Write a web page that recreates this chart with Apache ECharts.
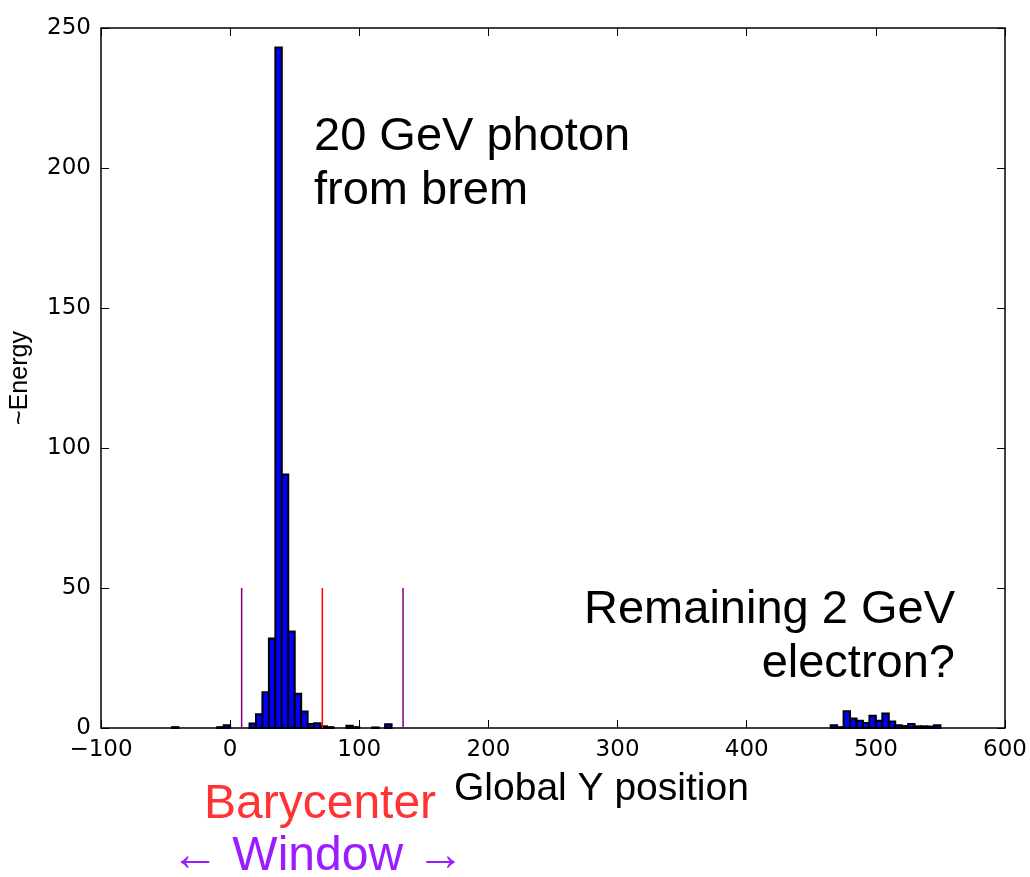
<!DOCTYPE html>
<html><head><meta charset="utf-8">
<script src="https://cdn.jsdelivr.net/npm/echarts@6/dist/echarts.min.js"></script>
<style>html,body{margin:0;padding:0;background:#fff}#c{width:1030px;height:877px}</style>
</head><body><div id="c"></div>
<script>
// Histogram bins (left edges, width 5) and heights
const binWidth = 5;
const binStarts = [-45, -10, -5, 15, 20, 25, 30, 35, 40, 45, 50, 55, 60, 65, 70, 75, 90, 95, 110, 120,
  465, 470, 475, 480, 485, 490, 495, 500, 505, 510, 515, 520, 525, 530, 535, 540, 545];
const binHeights = [0.3, 0.3, 1.0, 1.6, 4.9, 12.8, 32, 243, 90.5, 34.5, 12.2, 5.9, 1.4, 1.7, 0.6, 0.3, 0.8, 0.3, 0.2, 1.3,
  1.0, 0.3, 6.0, 3.4, 2.6, 1.8, 4.4, 2.6, 5.2, 2.3, 1.0, 0.7, 1.4, 0.6, 0.6, 0.5, 1.0];
const barycenter = 71.4;
const windowEdges = [8.9, 133.9];
const markerHeight = 50;
const xTicks = [-100, 0, 100, 200, 300, 400, 500, 600];
const yTicks = [0, 50, 100, 150, 200, 250];

const histData = binStarts.map((s, i) => [s, s + binWidth, binHeights[i]]);
const chart = echarts.init(document.getElementById('c'), null, {renderer: 'canvas'});
const tickFont = {fontFamily: 'DejaVu Sans', fontSize: 23, color: '#000'};
const minusFmt = v => String(v).replace('-', '\u2212');
const grid = {left: 100, top: 28, width: 905, height: 700, show: true, borderColor: '#000', borderWidth: 1.5, backgroundColor: 'transparent'};
const axisCommon = {
  axisLine: {show: false, onZero: false}, splitLine: {show: false},
  axisTick: {show: true, inside: true, length: 8, lineStyle: {color: '#000', width: 1}}
};
chart.setOption({
  animation: false,
  grid: grid,
  xAxis: [
    Object.assign({type: 'value', min: xTicks[0], max: xTicks[xTicks.length-1], interval: 100, position: 'bottom',
      axisLabel: Object.assign({margin: 11, formatter: minusFmt}, tickFont)}, axisCommon),
    Object.assign({type: 'value', min: xTicks[0], max: xTicks[xTicks.length-1], interval: 100, position: 'top',
      axisLabel: {show: false}}, axisCommon)
  ],
  yAxis: [
    Object.assign({type: 'value', min: yTicks[0], max: yTicks[yTicks.length-1], interval: 50, position: 'left',
      name: '~Energy', nameLocation: 'middle', nameGap: 68, nameRotate: 90,
      nameTextStyle: {fontFamily: 'Liberation Sans', fontSize: 25, color: '#000'},
      axisLabel: Object.assign({margin: 10}, tickFont)}, axisCommon),
    Object.assign({type: 'value', min: yTicks[0], max: yTicks[yTicks.length-1], interval: 50, position: 'right',
      axisLabel: {show: false}}, axisCommon)
  ],
  series: [
    {
      type: 'custom', xAxisIndex: 0, yAxisIndex: 0,
      data: histData,
      encode: {x: [0, 1], y: 2},
      renderItem: function (params, api) {
        const p0 = api.coord([api.value(0), 0]);
        const p1 = api.coord([api.value(1), api.value(2)]);
        return {
          type: 'rect',
          shape: {x: p0[0], y: p1[1], width: p1[0] - p0[0], height: p0[1] - p1[1]},
          style: {fill: '#0000ff', stroke: '#000', lineWidth: 2}
        };
      }
    },
    {
      type: 'line', symbol: 'none', lineStyle: {color: '#ff0000', width: 1.5},
      data: [[barycenter, 0], [barycenter, markerHeight]]
    },
    {
      type: 'line', symbol: 'none', lineStyle: {color: '#800080', width: 1.5},
      data: [[windowEdges[0], 0], [windowEdges[0], markerHeight]]
    },
    {
      type: 'line', symbol: 'none', lineStyle: {color: '#800080', width: 1.5},
      data: [[windowEdges[1], 0], [windowEdges[1], markerHeight]]
    }
  ],
  graphic: [
    {type: 'text', left: 314, top: 110, style: {text: '20 GeV photon\nfrom brem', font: '47px "Liberation Sans"', fill: '#000', lineHeight: 54}},
    {type: 'text', x: 955, y: 583, style: {text: 'Remaining 2 GeV\nelectron?', font: '47px "Liberation Sans"', fill: '#000', lineHeight: 54, align: 'right', verticalAlign: 'top'}},
    {type: 'text', left: 454, top: 770, style: {text: 'Global Y position', font: '39px "Liberation Sans"', fill: '#000'}},
    {type: 'text', left: 204, top: 781, style: {text: 'Barycenter', font: '48px "Liberation Sans"', fill: '#ff3333'}},
    {type: 'text', left: 171, top: 833, style: {text: '\u2190 Window \u2192', font: '48px "Liberation Sans"', fill: '#9b1cff'}}
  ]
});
</script></body></html>
